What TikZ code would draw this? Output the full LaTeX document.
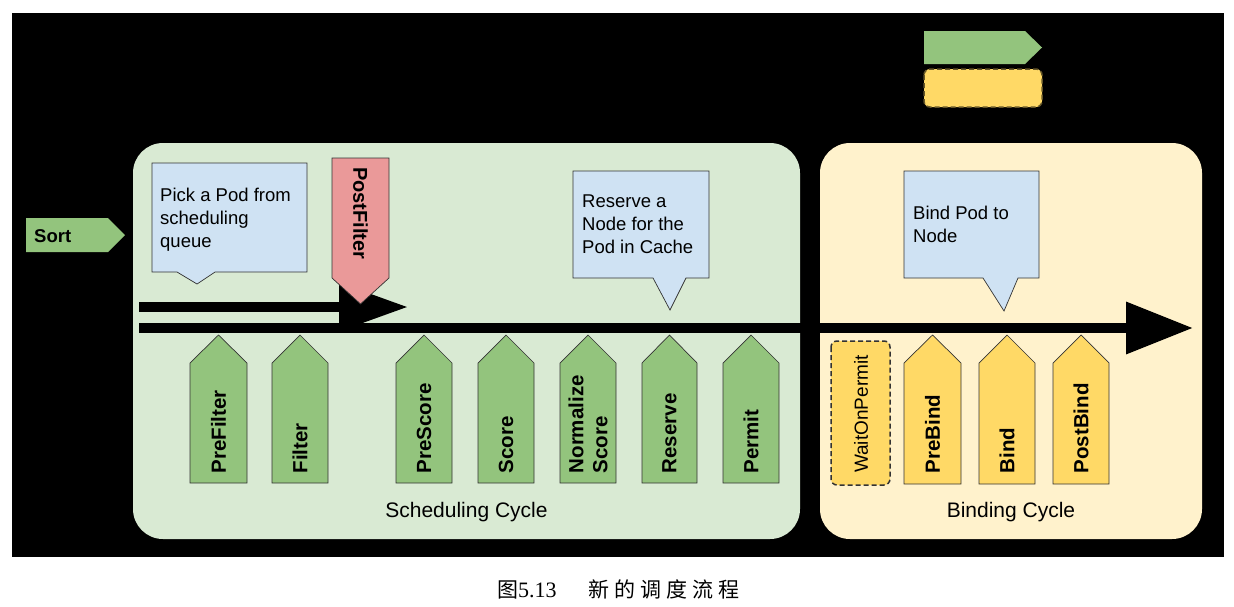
\documentclass[tikz,border=0pt]{standalone}
\usepackage{fontspec}
\setmainfont{Liberation Sans}
\newfontfamily\cjk{Noto Sans CJK SC}
\newfontfamily\capserif{Liberation Serif}
\usetikzlibrary{arrows.meta}
\definecolor{panelgreen}{HTML}{D9EAD3}
\definecolor{panelyellow}{HTML}{FFF2CC}
\definecolor{stgreen}{HTML}{93C47D}
\definecolor{styellow}{HTML}{FFD966}
\definecolor{stred}{HTML}{EA9999}
\definecolor{calloutblue}{HTML}{CFE2F3}
\definecolor{edgegray}{HTML}{333333}
\tikzset{
  panelg/.style={fill=panelgreen, draw=none, rounded corners=30pt},
  panely/.style={fill=panelyellow, draw=none, rounded corners=30pt},
  stagegreen/.style={fill=stgreen, draw=edgegray, line width=0.7pt, line join=miter},
  stageyellow/.style={fill=styellow, draw=edgegray, line width=0.7pt, line join=miter},
  stagered/.style={fill=stred, draw=edgegray, line width=0.7pt},
  dashbox/.style={fill=styellow, draw=edgegray, line width=1.5pt, dash pattern=on 5pt off 3pt, rounded corners=6pt},
  callout/.style={fill=calloutblue, draw=edgegray, line width=0.7pt},
  callouttext/.style={anchor=north west, inner sep=0pt, align=left, font=\fontsize{18.5}{23}\selectfont},
  stagelabel/.style={rotate=90, anchor=west, inner sep=0pt, align=left, font=\bfseries\fontsize{20.5}{24}\selectfont},
  cyclelabel/.style={anchor=base, inner sep=0pt, font=\fontsize{21}{25}\selectfont},
  flow/.style={line width=10pt, draw=black}
}
\begin{document}
\begin{tikzpicture}[x=1pt, y=-1pt]
\useasboundingbox (0,0) rectangle (1234,606);
\fill[white] (0,0) rectangle (1234,606);
\fill[black] (12,13) rectangle (1224,557);

% legend
\draw[stagegreen, draw=none] (924,31) -- (1025,31) -- (1042,47.5) -- (1025,64) -- (924,64) -- cycle;
\draw[dashbox, draw=styellow!40!black] (924,69) rectangle (1042,107);

% panels
\fill[panelg] (133,143) rectangle (800,539);
\fill[panely] (820,143) rectangle (1202,539);

% Sort
\draw[stagegreen, draw=none] (26,218) -- (108,218) -- (125,235) -- (108,252) -- (26,252) -- cycle;
\node[anchor=base west, inner sep=0pt, font=\bfseries\fontsize{18.5}{22}\selectfont] (sort) at (34,242) {Sort};

% callouts
\draw[callout] (152,163) -- (307,163) -- (307,272) -- (215,272) -- (197,284) -- (177,272) -- (152,272) -- cycle;
\node[callouttext] (pick) at (160,187.5) {Pick a Pod from\\scheduling\\queue};
\draw[callout] (573,171) -- (709,171) -- (709,278) -- (686,278) -- (670,310) -- (653,278) -- (573,278) -- cycle;
\node[callouttext] (reservenote) at (582,194.5) {Reserve a\\Node for the\\Pod in Cache};
\draw[callout] (904,171) -- (1039,171) -- (1039,278) -- (1018,278) -- (1004,311) -- (983,278) -- (904,278) -- cycle;
\node[callouttext] (bindnote) at (913,205.5) {Bind Pod to\\Node};

% flow arrows
\coordinate (upstart) at (139,307);
\coordinate (upend) at (408,307);
\coordinate (mainstart) at (139,328);
\coordinate (mainend) at (1193,328);
\draw[flow, -{Triangle[length=69pt, width=46pt]}] (upstart) -- (upend);
\draw[flow, -{Triangle[length=67pt, width=50pt]}] (mainstart) -- (mainend);

% PostFilter
\draw[stagered] (332,158) -- (389,158) -- (389,278) -- (360.5,304) -- (332,278) -- cycle;
\node[rotate=-90, anchor=west, inner sep=0pt, font=\bfseries\fontsize{20}{24}\selectfont] (postfilter) at (360.5,167) {PostFilter};

% scheduling stages
\foreach \nm/\xl/\xr/\txt in {prefilter/190/247/PreFilter, filter/272/328/Filter, prescore/396/452/PreScore, score/478/534/Score, normscore/560/616/{Normalize\\Score}, reserve/642/697/Reserve, permit/723/779/Permit}{
  \draw[stagegreen] (\xl,483) -- (\xl,363) -- ({(\xl+\xr)/2},335) -- (\xr,363) -- (\xr,483) -- cycle;
  \node[stagelabel] (\nm) at ({(\xl+\xr)/2},473.5) {\txt};
}

% binding stages
\draw[dashbox] (831,341) rectangle (890,485);
\node[rotate=90, anchor=west, inner sep=0pt, font=\fontsize{19}{23}\selectfont] (waitonpermit) at (861,473) {WaitOnPermit};
\foreach \nm/\xl/\xr/\txt in {prebind/904/961/PreBind, bind/979/1035/Bind, postbind/1053/1109/PostBind}{
  \draw[stageyellow] (\xl,484) -- (\xl,363) -- ({(\xl+\xr)/2},335) -- (\xr,363) -- (\xr,484) -- cycle;
  \node[stagelabel] (\nm) at ({(\xl+\xr)/2},473.5) {\txt};
}

% cycle labels
\node[cyclelabel] (schedcycle) at (466.5,517) {Scheduling Cycle};
\node[cyclelabel] (bindcycle) at (1011,517) {Binding Cycle};

% caption
\node[anchor=base west, inner sep=0pt] (caption) at (497,597) {{\cjk\fontsize{21}{21}\selectfont 图}{\capserif\fontsize{22}{22}\selectfont 5.13}\hspace{32pt}{\cjk\fontsize{21}{21}\selectfont 新\kern5pt 的\kern5pt 调\kern5pt 度\kern5pt 流\kern5pt 程}};
\end{tikzpicture}
\end{document}
